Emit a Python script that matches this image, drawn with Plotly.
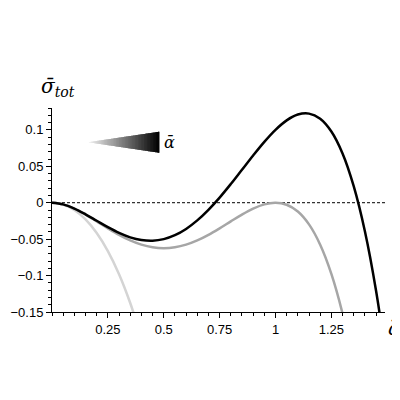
import plotly.graph_objects as go

q = [0, 0.05, 0.1, 0.15, 0.2, 0.25, 0.3, 0.35, 0.4, 0.45, 0.5, 0.55, 0.6, 0.65, 0.7, 0.75,
     0.8, 0.85, 0.9, 0.95, 1.0, 1.05, 1.1, 1.15, 1.2, 1.25, 1.3, 1.35, 1.4, 1.45, 1.5]
black = [0, -0.00225, -0.0080, -0.0159, -0.0248, -0.0336, -0.0414, -0.0475, -0.0512, -0.0522,
         -0.0500, -0.0446, -0.0360, -0.0243, -0.0098, 0.0070, 0.0256, 0.0452, 0.0648, 0.0835,
         0.1000, 0.1130, 0.1210, 0.1223, 0.1152, 0.0977, 0.0676, 0.0227, -0.0392, -0.1209, -0.2250]
gray = [0, -0.00226, -0.0081, -0.01626, -0.0256, -0.03516, -0.0441, -0.05176, -0.0576, -0.06126,
        -0.0625, -0.06126, -0.0576, -0.05176, -0.0441, -0.03516, -0.0256, -0.01626, -0.0081, -0.00226,
        0, -0.00276, -0.0121, -0.02976, -0.0576, -0.09766, -0.1521, -0.2233]
q_light = [0, 0.05, 0.1, 0.15, 0.2, 0.25, 0.3, 0.35, 0.4]
light = [0, -0.0025, -0.0101, -0.0230, -0.0416, -0.0664, -0.0981, -0.1376, -0.1856]

xticks = [0.25, 0.5, 0.75, 1, 1.25]
xtick_labels = ["0.25", "0.5", "0.75", "1", "1.25"]
yticks = [-0.15, -0.1, -0.05, 0, 0.05, 0.1]
ytick_labels = ["−0.15", "−0.1", "−0.05", "0", "0.05", "0.1"]

fig = go.Figure()
fig.add_trace(go.Scatter(x=q_light, y=light, mode="lines", line=dict(color="#d4d4d4", width=2.5, shape="spline")))
fig.add_trace(go.Scatter(x=q[:len(gray)], y=gray, mode="lines", line=dict(color="#a6a6a6", width=2.5, shape="spline")))
fig.add_trace(go.Scatter(x=q, y=black, mode="lines", line=dict(color="black", width=2.5, shape="spline")))

shapes = [dict(type="line", xref="x", yref="y", x0=0, x1=1.49, y0=0, y1=0,
               line=dict(color="black", width=1, dash="3px,2px"), layer="below")]
# gradient wedge
N = 120
x0, x1, yc, h = 0.16, 0.48, 0.083, 0.0145
for i in range(N):
    a, b = x0 + (x1 - x0) * i / N, x0 + (x1 - x0) * (i + 1) / N
    ha, hb = h * i / N, h * (i + 1) / N
    g = int(245 * (1 - (i + 1) / N))
    bb = min(b + 0.003, x1)
    shapes.append(dict(type="path", xref="x", yref="y",
                       path=f"M {a},{yc-ha} L {bb},{yc-hb} L {bb},{yc+hb} L {a},{yc+ha} Z",
                       fillcolor=f"rgb({g},{g},{g})", line=dict(width=0)))

fig.update_layout(
    width=400, height=400, showlegend=False, plot_bgcolor="white", paper_bgcolor="white",
    margin=dict(l=44, r=23, t=100, b=96),
    font=dict(family="Liberation Sans, Arial", size=13, color="black"),
    shapes=shapes,
    xaxis=dict(range=[0, 1.49], tickvals=xticks, ticktext=xtick_labels, showgrid=False, zeroline=False,
               automargin=False,
               showline=True, linecolor="black", ticks="outside", ticklen=5, tickcolor="black",
               minor=dict(dtick=0.05, ticks="outside", ticklen=3, tickcolor="black")),
    yaxis=dict(range=[-0.15, 0.13], tickvals=yticks, ticktext=ytick_labels, showgrid=False, zeroline=False,
               automargin=False,
               showline=True, linecolor="black", ticks="outside", ticklen=5, tickcolor="black",
               minor=dict(dtick=0.01, ticks="outside", ticklen=3, tickcolor="black")),
    annotations=[
        dict(text="<i>σ̄<sub>tot</sub></i>", xref="paper", yref="paper", x=-0.04, y=1.03, xanchor="left", yanchor="bottom",
             showarrow=False, font=dict(family="DejaVu Serif", size=20)),
        dict(text="<i>q̄</i>", xref="paper", yref="paper", x=1.0, y=-0.01, xanchor="left", yanchor="top",
             showarrow=False, font=dict(family="DejaVu Serif", size=20)),
        dict(text="<i>ᾱ</i>", xref="x", yref="y", x=0.49, y=0.083, xanchor="left", yanchor="middle",
             showarrow=False, font=dict(family="DejaVu Serif", size=16)),
    ],
)
fig.write_html("out.html")
